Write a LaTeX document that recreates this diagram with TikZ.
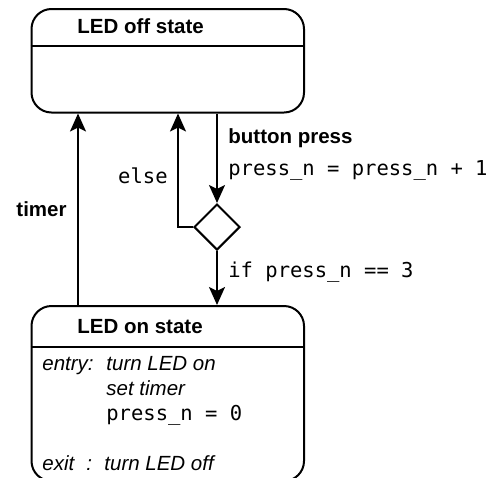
\documentclass[tikz,border=0pt]{standalone}
\usepackage{fontspec}
\setmainfont{Liberation Sans}
\setmonofont{DejaVu Sans Mono}
\usepackage{tikz}
\usetikzlibrary{shapes.geometric, arrows.meta, positioning}

\begin{document}
\begin{tikzpicture}[
        x=0.5pt, y=-0.5pt,
        estado/.style={
            rectangle,
            rounded corners=10pt,
            draw=black,
            line width=1pt,
            minimum width=136.25pt,
            inner sep=0pt
        },
        decision/.style={
            diamond,
            draw=black,
            line width=1pt,
            minimum width=23pt,
            minimum height=23pt,
            inner sep=0pt
        },
        titulo/.style={
            font=\fontsize{10.25}{12}\selectfont\bfseries,
            anchor=base west,
            inner sep=0pt
        },
        accion/.style={
            font=\fontsize{10.25}{12}\selectfont\itshape,
            anchor=base west,
            inner sep=0pt
        },
        codigo/.style={
            font=\fontsize{10.25}{12}\selectfont\ttfamily,
            anchor=base west,
            inner sep=0pt
        },
        separador/.style={
            line width=1pt
        },
        flecha/.style={
            -{Stealth[length=9pt,width=8pt,inset=2pt]},
            line width=1pt
        }
    ]

    \fill[white] (0,0) rectangle (501,477);
    \useasboundingbox (0,0) rectangle (501,477);

    \node[estado, minimum height=51.75pt] (off) at (167.75,60.75) {};
    \node[estado, minimum height=87.5pt] (on) at (167.75,393.5) {};
    \node[decision] (check) at (217,227) {};

    \coordinate (timerx) at (78,0);
    \coordinate (elsex) at (178,0);

    \draw[separador] (off.west |- 0,45.5) -- (off.east |- 0,45.5);
    \draw[separador] (on.west |- 0,347) -- (on.east |- 0,347);

    \node[titulo] (offtitle) at (77,33) {LED off state};
    \node[titulo] (ontitle) at (77,333) {LED on state};

    \node[accion] (entry) at (42,370) {entry:};
    \node[accion] (act1) at (106,370) {turn LED on};
    \node[accion] (act2) at (106,395) {set timer};
    \node[codigo] (act3) at (106,420) {press\_n = 0};
    \node[accion] (exit) at (42,470) {exit};
    \node[accion] (colon) at (86,470) {:};
    \node[accion] (act4) at (104,470) {turn LED off};

    \draw[flecha] (on.north -| timerx) -- (off.south -| timerx);
    \draw[flecha] (off.south -| check) -- (check.north);
    \draw[flecha] (check.west) -| (off.south -| elsex);
    \draw[flecha] (check.south) -- (on.north -| check);

    \node[titulo, anchor=base east] (timer) at (67,216) {timer};
    \node[titulo] (press) at (228,143) {button press};
    \node[codigo] (count) at (228,175) {press\_n = press\_n + 1};
    \node[codigo, anchor=base east] (otherwise) at (168,183) {else};
    \node[codigo] (cond) at (228,277) {if press\_n == 3};

\end{tikzpicture}
\end{document}
